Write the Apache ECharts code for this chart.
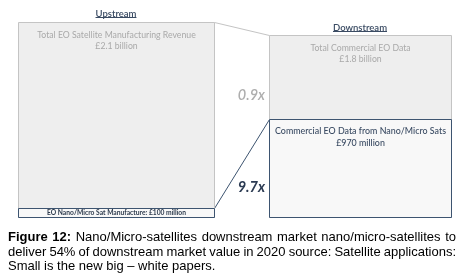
<!DOCTYPE html>
<html><head><meta charset="utf-8">
<script src="https://cdn.jsdelivr.net/npm/echarts@6/dist/echarts.min.js"></script>
<style>html,body{margin:0;padding:0;background:#fff}#c{width:464px;height:279px}</style>
</head><body><div id="c"></div>
<script>
// ---- data ----
const stages = ['Upstream', 'Downstream'];
const totalLabels = ['Total EO Satellite Manufacturing Revenue', 'Total Commercial EO Data'];
const totalValueText = ['£2.1 billion', '£1.8 billion'];
const totalValues = [2.1, 1.8];            // £ billion
const nanoLabels = ['EO Nano/Micro Sat Manufacture: £100 million', 'Commercial EO Data from Nano/Micro Sats'];
const nanoValueText = ['', '£970 million'];
const nanoValues = [0.1, 0.97];            // £ billion
const ratioLabels = ['0.9x', '9.7x'];
const captionBold = 'Figure 12:';
const captionLines = [
  'Nano/Micro-satellites downstream market nano/micro-satellites to',
  'deliver 54% of downstream market value in 2020 source: Satellite applications:',
  'Small is the new big \u2013 white papers.'
];

// ---- style ----
const GREY_FILL = '#eeeeee', GREY_LINE = '#c4c4c4';
const DARK = '#3d5470', NANO_FILL = '#f8f8f8';
const CAL = 'Lato, "Open Sans", sans-serif';

function renderer(stage) {
  return function (params, api) {
    const kind = api.value(0);
    const v = api.value(1);
    const p0 = api.coord([0, 0]);
    const p1 = api.coord([1, v]);
    const x0 = Math.round(p0[0]) + 0.5, x1 = Math.round(p1[0]) + 0.5;
    const yb = Math.round(p0[1]) + 0.5, yt = Math.round(p1[1]) + 0.5;
    const cx = (x0 + x1) / 2;
    const children = [{
      type: 'rect',
      shape: { x: x0, y: yt, width: x1 - x0, height: yb - yt },
      style: { fill: kind === 0 ? GREY_FILL : NANO_FILL, stroke: kind === 0 ? GREY_LINE : DARK, lineWidth: 1 }
    }];
    if (kind === 0) {
      children.push({
        type: 'text',
        style: { text: totalLabels[stage] + '\n' + totalValueText[stage], x: cx, y: yt + 7.5,
          align: 'center', verticalAlign: 'top', font: '8.7px ' + CAL, fill: '#a9a9a9', lineHeight: 11 }
      });
    } else if (stage === 1) {
      children.push({
        type: 'text',
        style: { text: nanoLabels[stage] + '\n' + nanoValueText[stage], x: cx, y: yt + 6,
          align: 'center', verticalAlign: 'top', font: '500 8.9px ' + CAL, fill: '#3a4b63', lineHeight: 11.5 }
      });
    } else {
      children.push({
        type: 'text',
        style: { text: nanoLabels[stage], x: cx, y: (yt + yb) / 2,
          align: 'center', verticalAlign: 'middle', font: 'bold 6.7px ' + CAL, fill: '#2c3a4d' }
      });
    }
    return { type: 'group', children };
  };
}

const chart = echarts.init(document.getElementById('c'), null, { renderer: 'canvas' });
const grids = [
  { left: 18, top: 22, width: 196, height: 195 },
  { left: 269, top: 35, width: 182, height: 182 }
];
chart.setOption({
  animation: false,
  backgroundColor: '#ffffff',
  grid: grids,
  xAxis: grids.map((g, i) => ({ type: 'value', gridIndex: i, min: 0, max: 1, show: false })),
  yAxis: grids.map((g, i) => ({ type: 'value', gridIndex: i, min: 0, max: totalValues[i], show: false })),
  series: stages.map((s, i) => ({
    type: 'custom', name: s, xAxisIndex: i, yAxisIndex: i, clip: false,
    renderItem: renderer(i),
    data: [[0, totalValues[i]], [1, nanoValues[i]]]
  }))
});

// connectors from the library's scales
const upTop = chart.convertToPixel({ gridIndex: 0 }, [1, totalValues[0]]);
const upNano = chart.convertToPixel({ gridIndex: 0 }, [1, nanoValues[0]]);
const dnTop = chart.convertToPixel({ gridIndex: 1 }, [0, totalValues[1]]);
const dnNano = chart.convertToPixel({ gridIndex: 1 }, [0, nanoValues[1]]);
const r = v => Math.round(v) + 0.5;

const graphics = [
  { type: 'line', shape: { x1: r(upTop[0]), y1: r(upTop[1]), x2: r(dnTop[0]), y2: r(dnTop[1]) }, style: { stroke: GREY_LINE, lineWidth: 1 } },
  { type: 'line', shape: { x1: r(upNano[0]), y1: r(upNano[1]), x2: r(dnNano[0]), y2: r(dnNano[1]) }, style: { stroke: DARK, lineWidth: 1 } },
  { type: 'text', style: { text: stages[0], x: 116, y: 14, align: 'center', verticalAlign: 'middle', font: '600 9.5px ' + CAL, fill: '#3a4b63' } },
  { type: 'text', style: { text: stages[1], x: 360, y: 28, align: 'center', verticalAlign: 'middle', font: '600 9.5px ' + CAL, fill: '#3a4b63' } },
  { type: 'text', style: { text: ratioLabels[0], x: 265, y: 95, align: 'right', verticalAlign: 'middle', font: 'italic 600 14.5px ' + CAL, fill: '#aeaeae' } },
  { type: 'text', style: { text: ratioLabels[1], x: 265, y: 187, align: 'right', verticalAlign: 'middle', font: 'italic bold 14.5px ' + CAL, fill: '#2b3a52' } }
];

// underlines for the stage titles
const mc = document.createElement('canvas').getContext('2d');
function tw(font, t) { mc.font = font; return mc.measureText(t).width; }
[[116, 17.5, stages[0]], [360, 31.5, stages[1]]].forEach(([cx, y, t]) => {
  const w = tw('600 9.5px ' + CAL, t);
  graphics.push({ type: 'line', shape: { x1: cx - w / 2, y1: y, x2: cx + w / 2, y2: y }, style: { stroke: '#3a4b63', lineWidth: 1 } });
});

// justified caption
const CF = '13px "Liberation Sans", Arial, sans-serif';
const CFB = 'bold 13px "Liberation Sans", Arial, sans-serif';
const L = 8, R = 456;
const baselines = [244, 258.5, 273];
captionLines.forEach((line, li) => {
  let words = line.split(' ').map(w => ({ t: w, f: CF }));
  if (li === 0) words = captionBold.split(' ').map(w => ({ t: w, f: CFB })).concat(words);
  const widths = words.map(w => tw(w.f, w.t));
  const sum = widths.reduce((a, b) => a + b, 0);
  const justify = li < captionLines.length - 1;
  const gap = justify ? (R - L - sum) / (words.length - 1) : tw(CF, ' ');
  let x = L;
  words.forEach((w, i) => {
    graphics.push({ type: 'text', style: { text: w.t, x: x, y: baselines[li], align: 'left', verticalAlign: 'bottom', font: w.f, fill: '#000' } });
    x += widths[i] + gap;
  });
});

chart.setOption({ graphic: graphics });
</script></body></html>
